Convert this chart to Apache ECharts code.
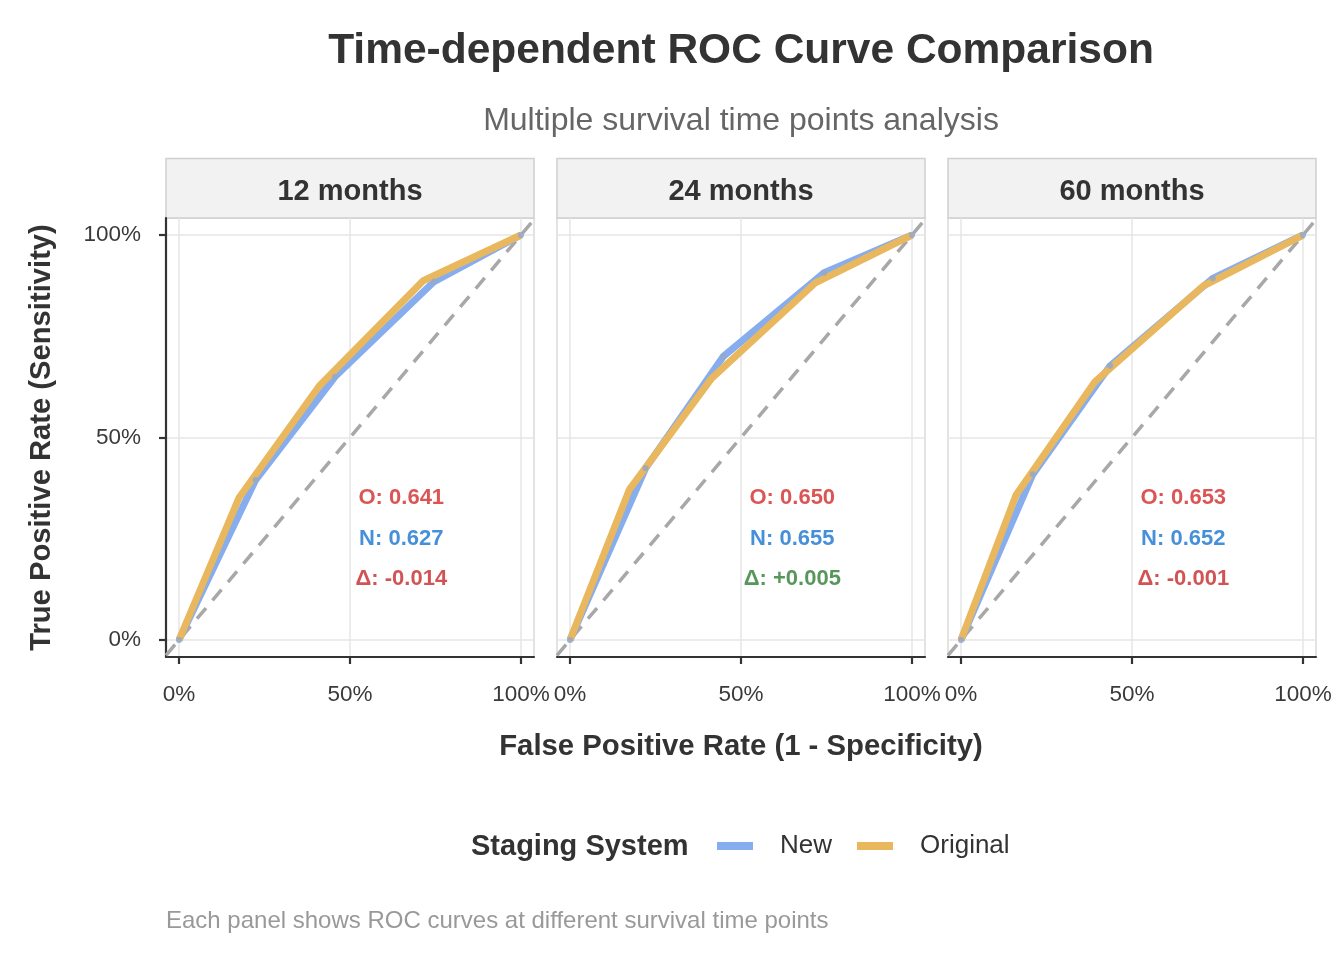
<!DOCTYPE html>
<html>
<head>
<meta charset="utf-8">
<title>Time-dependent ROC Curve Comparison</title>
<script src="https://cdn.jsdelivr.net/npm/echarts@6/dist/echarts.min.js"></script>
<style>
  html, body { margin: 0; padding: 0; background: #fff; }
  #chart { width: 1344px; height: 960px; }
</style>
</head>
<body>
<div id="chart"></div>
<script>
// panels (survival time points)
const panels = ['12 months', '24 months', '60 months']

// ROC points, one array per panel
const newFpr = [
  [0, 0.224, 0.456, 0.746, 1],
  [0, 0.221, 0.448, 0.743, 1],
  [0, 0.210, 0.436, 0.736, 1],
]
const newTpr = [
  [0, 0.395, 0.650, 0.885, 1],
  [0, 0.424, 0.700, 0.907, 1],
  [0, 0.409, 0.677, 0.893, 1],
]
const origFpr = [
  [0, 0.176, 0.410, 0.714, 1],
  [0, 0.174, 0.414, 0.716, 1],
  [0, 0.161, 0.392, 0.708, 1],
]
const origTpr = [
  [0, 0.352, 0.627, 0.887, 1],
  [0, 0.372, 0.646, 0.881, 1],
  [0, 0.358, 0.638, 0.874, 1],
]

// AUC per panel
const origAuc = [0.641, 0.650, 0.653]
const newAuc = [0.627, 0.655, 0.652]

// tick labels
const tickValues = [0, 0.5, 1]
const tickLabels = ['0%', '50%', '100%']

const FONT = '"Liberation Sans", Arial, Helvetica, sans-serif'
const COL_NEW = '#86adee'
const COL_ORIG = '#e8b75e'

const X_MIN = -0.038, X_MAX = 1.038
const Y_MIN = -0.042, Y_MAX = 1.042

const panelLeft = 166
const panelTop = 218
const panelW = 368
const panelH = 439
const panelStep = 391

let chart = echarts.init(document.getElementById('chart'), null, { renderer: 'canvas' })

const pct = (v) => {
  let i = tickValues.indexOf(Math.round(v * 100) / 100)
  return i >= 0 ? tickLabels[i] : ''
}

let grids = [], xAxes = [], yAxes = [], series = [], graphics = []

panels.forEach((name, i) => {
  let left = panelLeft + i * panelStep
  grids.push({
    left: left, top: panelTop, width: panelW, height: panelH,
    show: true, borderColor: '#dadada', borderWidth: 1.5, backgroundColor: '#fff',
  })
  xAxes.push({
    gridIndex: i, type: 'value', min: X_MIN, max: X_MAX,
    axisLine: { show: true, onZero: false, lineStyle: { color: '#333', width: 2.2 } },
    axisTick: { show: true, length: 7, customValues: tickValues, lineStyle: { color: '#333', width: 2.2 } },
    axisLabel: {
      show: true, customValues: tickValues, formatter: pct, margin: 26,
      fontFamily: FONT, fontSize: 22.5, color: '#3a3a3a',
    },
    splitLine: { show: true, lineStyle: { color: '#e6e6e6', width: 1.5 } },
  })
  yAxes.push({
    gridIndex: i, type: 'value', min: Y_MIN, max: Y_MAX,
    axisLine: { show: i === 0, onZero: false, lineStyle: { color: '#333', width: 2.2 } },
    axisTick: { show: i === 0, length: 7, customValues: tickValues, lineStyle: { color: '#333', width: 2.2 } },
    axisLabel: {
      show: i === 0, customValues: tickValues, formatter: pct, margin: 25,
      fontFamily: FONT, fontSize: 22.5, color: '#3a3a3a',
    },
    splitLine: { show: true, lineStyle: { color: '#e6e6e6', width: 1.5 } },
  })

  // chance diagonal across the whole panel
  series.push({
    type: 'line', xAxisIndex: i, yAxisIndex: i, silent: true, z: 2,
    data: [[X_MIN, X_MIN], [X_MAX, X_MAX]],
    symbol: 'none',
    lineStyle: { color: '#a8a8a8', width: 3.5, type: [14, 10] },
  })
  series.push({
    name: 'New', type: 'line', xAxisIndex: i, yAxisIndex: i, z: 3,
    data: newFpr[i].map((x, k) => [x, newTpr[i][k]]),
    symbol: 'none', color: COL_NEW,
    lineStyle: { color: COL_NEW, width: 7 },
  })
  series.push({
    name: 'Original', type: 'line', xAxisIndex: i, yAxisIndex: i, z: 4,
    data: origFpr[i].map((x, k) => [x, origTpr[i][k]]),
    symbol: 'none', color: COL_ORIG,
    lineStyle: { color: COL_ORIG, width: 7 },
  })
  // small points at the New vertices
  series.push({
    type: 'scatter', xAxisIndex: i, yAxisIndex: i, z: 5, silent: true,
    data: newFpr[i].map((x, k) => [x, newTpr[i][k]]),
    symbolSize: 6,
    itemStyle: { color: '#97a9c4', opacity: 0.9 },
  })

  // AUC annotation
  let d = newAuc[i] - origAuc[i]
  let dTxt = (d >= 0 ? '+' : '') + d.toFixed(3)
  let dCol = d >= 0 ? '#2e7d32' : '#c62828'
  let lab = (txt, col) => ({
    show: true, position: 'inside', formatter: txt,
    fontFamily: FONT, fontSize: 22, fontWeight: 'bold', color: col,
  })
  series.push({
    type: 'scatter', xAxisIndex: i, yAxisIndex: i, z: 6, silent: true,
    symbolSize: 1, itemStyle: { color: 'rgba(0,0,0,0)' },
    data: [
      { value: [0.65, 0.35], label: lab('O: ' + origAuc[i].toFixed(3), '#d32a2a') },
      { value: [0.65, 0.25], label: lab('N: ' + newAuc[i].toFixed(3), '#1873d0') },
      { value: [0.65, 0.15], label: lab('Δ: ' + dTxt, dCol) },
    ],
  })

  // facet strip
  graphics.push({
    type: 'rect',
    shape: { x: left, y: 158.5, width: panelW, height: 59.5 },
    style: { fill: '#f2f2f2', stroke: '#d0d0d0', lineWidth: 1.5 },
  })
  graphics.push({
    type: 'text',
    style: {
      text: name, x: left + panelW / 2, y: 192, align: 'center', verticalAlign: 'middle',
      font: 'bold 29px ' + FONT, fill: '#333',
    },
  })
})

const centerX = panelLeft + (panelStep * 2 + panelW) / 2

graphics.push(
  {
    type: 'text',
    style: {
      text: 'Time-dependent ROC Curve Comparison', x: centerX, y: 51,
      align: 'center', verticalAlign: 'middle', font: 'bold 42.5px ' + FONT, fill: '#333',
    },
  },
  {
    type: 'text',
    style: {
      text: 'Multiple survival time points analysis', x: centerX, y: 121,
      align: 'center', verticalAlign: 'middle', font: '32px ' + FONT, fill: '#666',
    },
  },
  {
    type: 'text',
    style: {
      text: 'False Positive Rate (1 - Specificity)', x: centerX, y: 747,
      align: 'center', verticalAlign: 'middle', font: 'bold 29.3px ' + FONT, fill: '#333',
    },
  },
  {
    type: 'text', x: 42, y: 437.5, rotation: Math.PI / 2,
    style: {
      text: 'True Positive Rate (Sensitivity)', x: 0, y: 0,
      align: 'center', verticalAlign: 'middle', font: 'bold 29.2px ' + FONT, fill: '#333',
    },
  },
  {
    type: 'text',
    style: {
      text: 'Staging System', x: 471, y: 847,
      align: 'left', verticalAlign: 'middle', font: 'bold 29px ' + FONT, fill: '#333',
    },
  },
  {
    type: 'text',
    style: {
      text: 'Each panel shows ROC curves at different survival time points', x: 166, y: 921,
      align: 'left', verticalAlign: 'middle', font: '24px ' + FONT, fill: '#999',
    },
  }
)

let option = {
  animation: false,
  backgroundColor: '#fff',
  grid: grids,
  xAxis: xAxes,
  yAxis: yAxes,
  series: series,
  legend: {
    data: ['New', 'Original'],
    left: 712, top: 826,
    icon: 'rect', itemWidth: 36, itemHeight: 8, itemGap: 25,
    selectedMode: false,
    textStyle: {
      fontFamily: FONT, fontSize: 26, color: '#333', lineHeight: 30,
      padding: [0, 0, 0, 22],
    },
  },
  graphic: graphics,
}

chart.setOption(option)
</script>
</body>
</html>
